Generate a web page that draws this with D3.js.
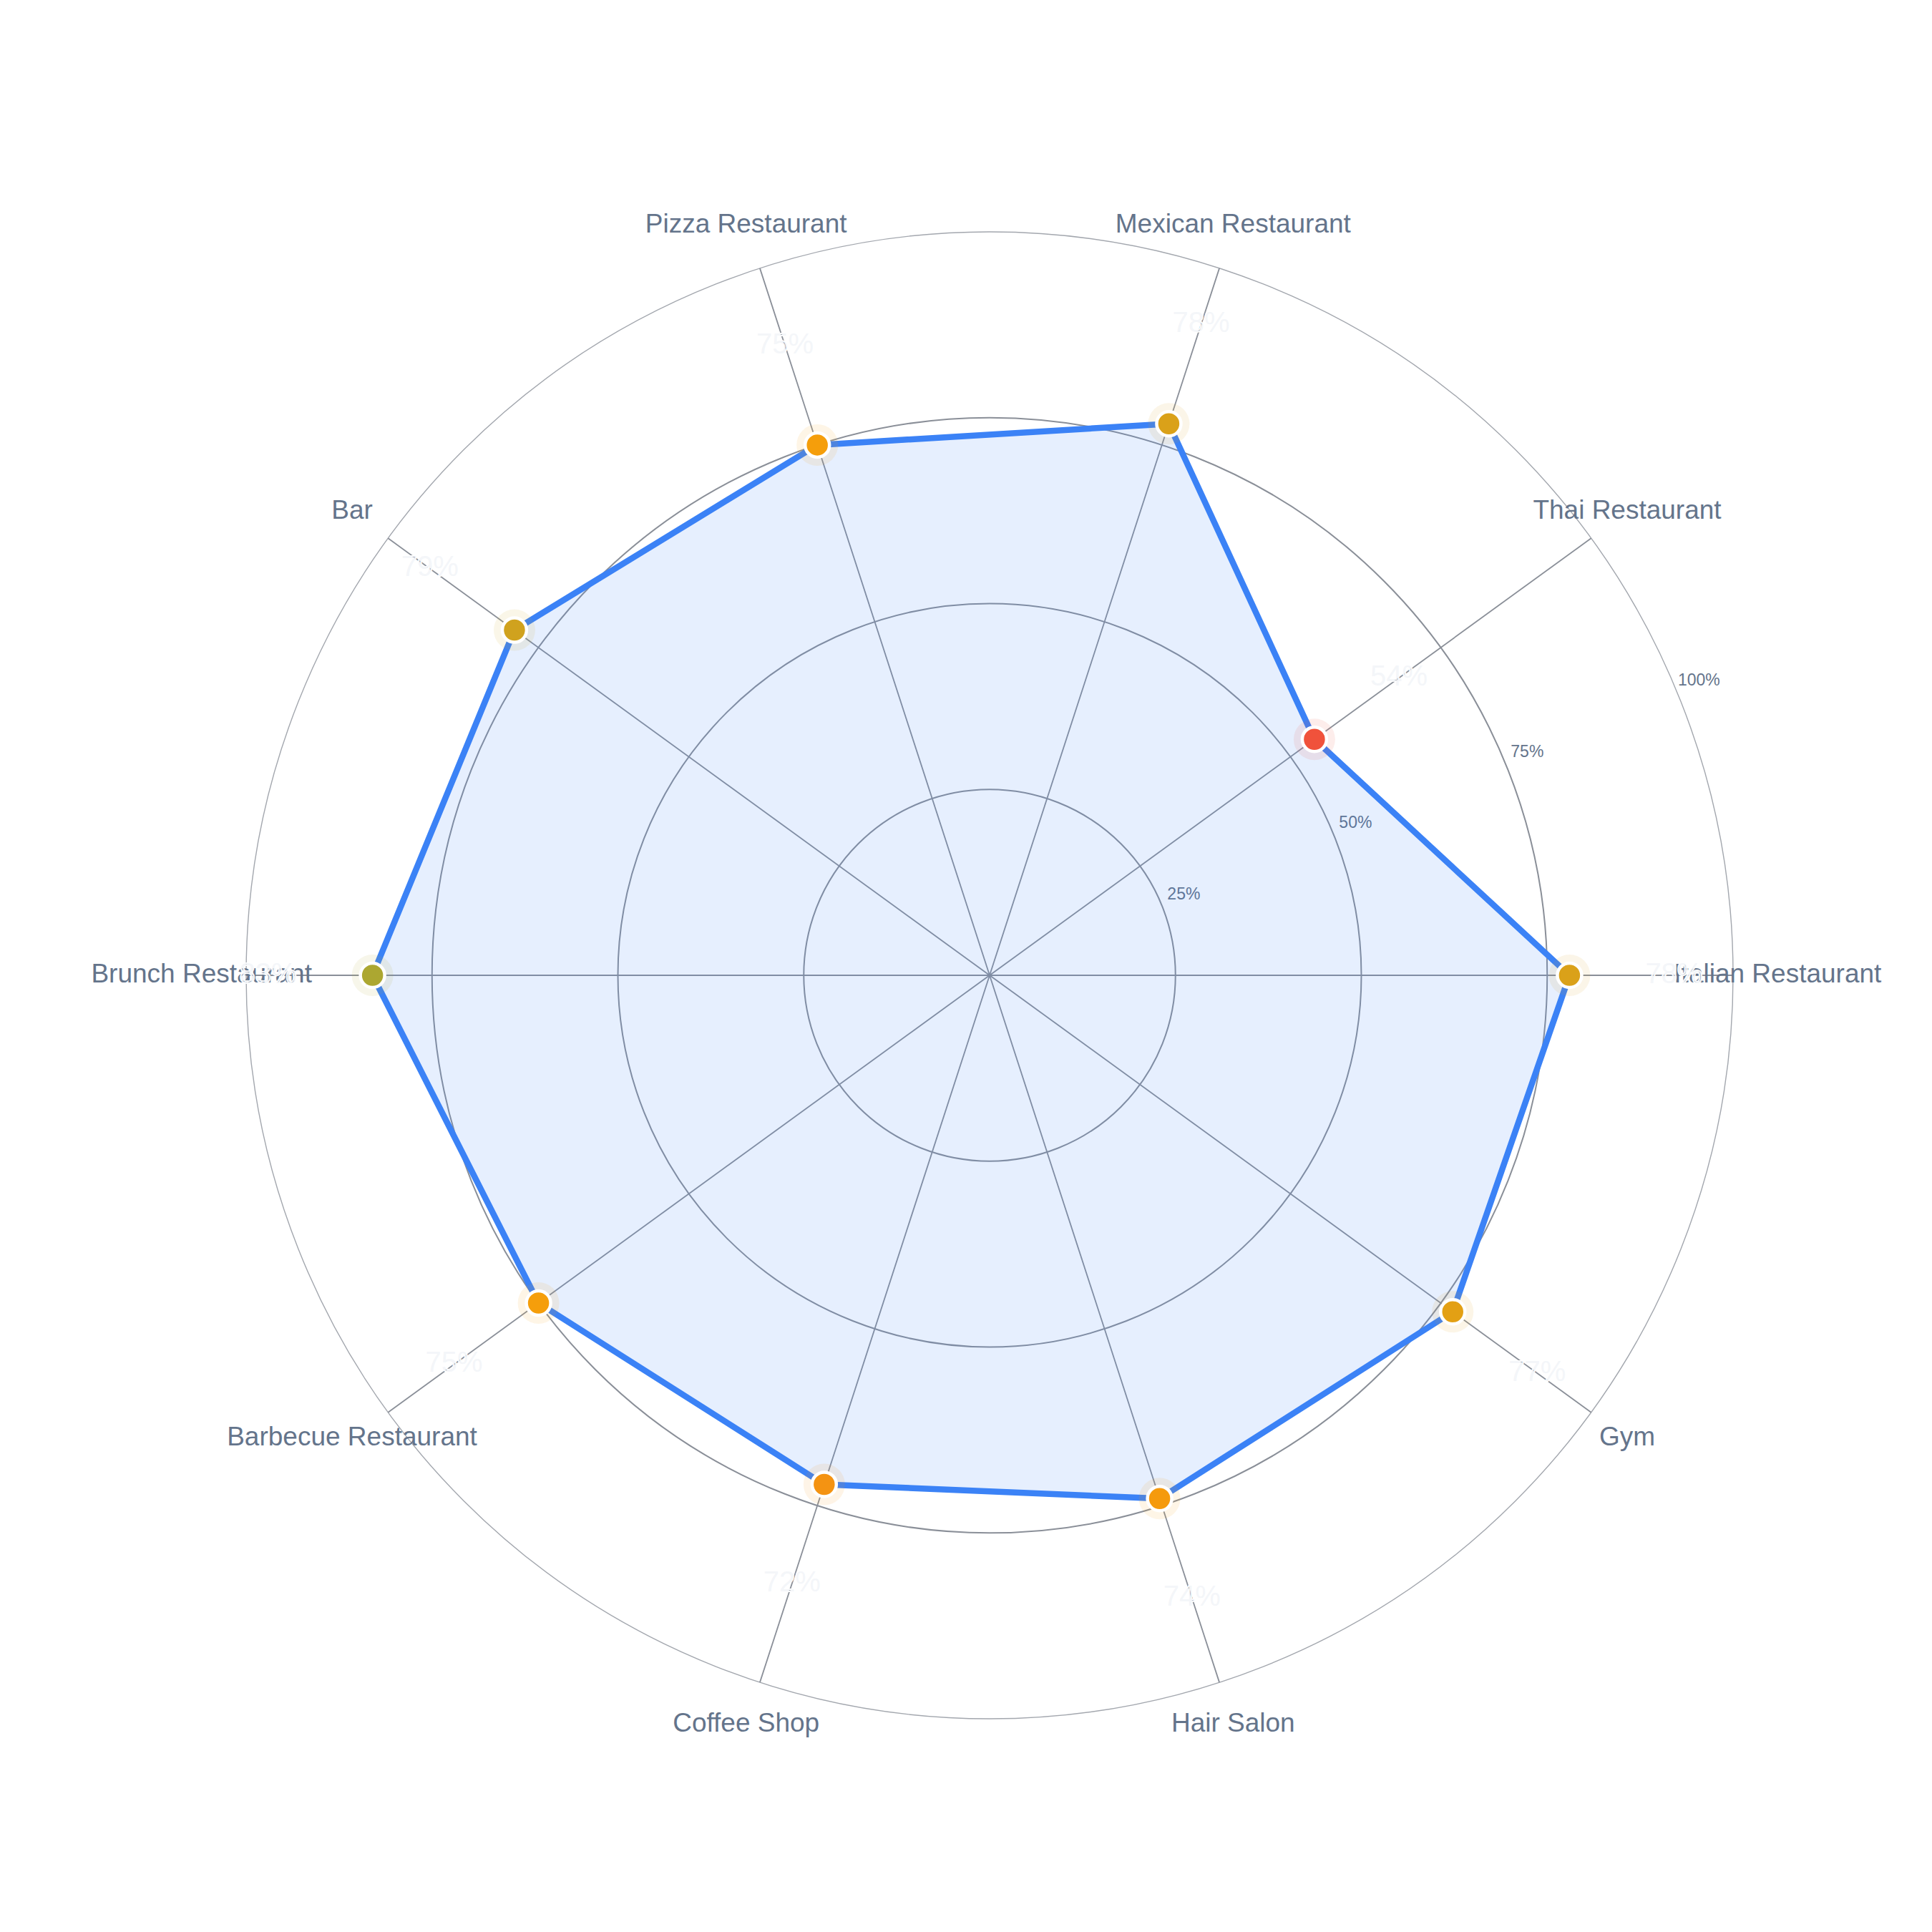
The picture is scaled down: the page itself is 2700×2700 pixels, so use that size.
<!DOCTYPE html>
<html>
<head>
<meta charset="utf-8">
<script src="https://cdn.jsdelivr.net/npm/d3@7"></script>
<style>
  html, body { margin: 0; padding: 0; background: #ffffff; }
  svg { display: block; font-family: "Helvetica Neue", Helvetica, Arial, "Liberation Sans", sans-serif; }
</style>
</head>
<body>
<svg id="chart"></svg>
<script>
const categories = ["Italian Restaurant", "Thai Restaurant", "Mexican Restaurant", "Pizza Restaurant", "Bar",
  "Brunch Restaurant", "Barbecue Restaurant", "Coffee Shop", "Hair Salon", "Gym"];
const scores = [78, 54, 78, 75, 79, 83, 75, 72, 74, 77];
const ringLevels = [25, 50, 75, 100];
const ringLabels = ["25%", "50%", "75%", "100%"];

const width = 2700, height = 2700;
const cx = 1383, cy = 1363;
const R = 1039;

const svg = d3.select("#chart")
  .attr("width", width)
  .attr("height", height);

svg.append("rect").attr("width", width).attr("height", height).attr("fill", "#ffffff");

const g = svg.append("g").attr("transform", "translate(" + cx + "," + cy + ")");

const rScale = d3.scaleLinear().domain([0, 100]).range([0, R]);
// angle in d3 radial convention (0 = 12 o'clock, clockwise); first category sits at 3 o'clock, going counter-clockwise
const aScale = d3.scaleLinear().domain([0, categories.length]).range([Math.PI / 2, Math.PI / 2 - 2 * Math.PI]);
const colorScale = d3.scaleLinear().domain([50, 75, 100]).range(["#ef4444", "#f59e0b", "#10b981"]);

const px = (a, r) => r * Math.sin(a);
const py = (a, r) => -r * Math.cos(a);

// rings
g.selectAll(".ring")
  .data(ringLevels)
  .enter().append("circle")
  .attr("class", "ring")
  .attr("r", d => rScale(d))
  .attr("fill", "none")
  .attr("stroke", d => d === 100 ? "#a3a7ae" : "#8a8f98")
  .attr("stroke-width", d => d === 100 ? 1.4 : 2);

// axes
g.selectAll(".axis")
  .data(categories)
  .enter().append("line")
  .attr("class", "axis")
  .attr("x1", 0).attr("y1", 0)
  .attr("x2", (d, i) => px(aScale(i), rScale(100)))
  .attr("y2", (d, i) => py(aScale(i), rScale(100)))
  .attr("stroke", "#8a8f98")
  .attr("stroke-width", 1.8);

// tick labels
const tickAngle = Math.PI / 2 - Math.PI / 8;
g.selectAll(".tick-label")
  .data(ringLevels)
  .enter().append("text")
  .attr("class", "tick-label")
  .attr("x", d => px(tickAngle, rScale(d) + 34))
  .attr("y", d => py(tickAngle, rScale(d) + 34))
  .attr("text-anchor", "middle")
  .attr("dominant-baseline", "middle")
  .attr("font-size", 23)
  .attr("fill", "#64748b")
  .text((d, i) => ringLabels[i]);

// area
const radarLine = d3.lineRadial()
  .angle((d, i) => aScale(i))
  .radius(d => rScale(d))
  .curve(d3.curveLinearClosed);

g.append("path")
  .datum(scores)
  .attr("d", radarLine)
  .attr("fill", "#3b82f6")
  .attr("fill-opacity", 0.13)
  .attr("stroke", "#3b82f6")
  .attr("stroke-width", 8.5)
  .attr("stroke-linejoin", "round");

// category labels
g.selectAll(".cat-label")
  .data(categories)
  .enter().append("text")
  .attr("class", "cat-label")
  .attr("x", (d, i) => px(aScale(i), rScale(100) * 1.06))
  .attr("y", (d, i) => py(aScale(i), rScale(100) * 1.06))
  .attr("text-anchor", "middle")
  .attr("dominant-baseline", "middle")
  .attr("font-size", 37)
  .attr("fill", "#64748b")
  .text(d => d);

// point halos
g.selectAll(".halo")
  .data(scores)
  .enter().append("circle")
  .attr("class", "halo")
  .attr("cx", (d, i) => px(aScale(i), rScale(d)))
  .attr("cy", (d, i) => py(aScale(i), rScale(d)))
  .attr("r", 29)
  .attr("fill", d => colorScale(d))
  .attr("fill-opacity", 0.1);

// points
g.selectAll(".dot")
  .data(scores)
  .enter().append("circle")
  .attr("class", "dot")
  .attr("cx", (d, i) => px(aScale(i), rScale(d)))
  .attr("cy", (d, i) => py(aScale(i), rScale(d)))
  .attr("r", 17)
  .attr("fill", d => colorScale(d))
  .attr("stroke", "#ffffff")
  .attr("stroke-width", 4.5);

// value labels (very faint, see-through, with thin white outline)
g.selectAll(".val-label")
  .data(scores)
  .enter().append("text")
  .attr("class", "val-label")
  .attr("x", (d, i) => px(aScale(i), rScale(d) + 146))
  .attr("y", (d, i) => py(aScale(i), rScale(d) + 146))
  .attr("text-anchor", "middle")
  .attr("dominant-baseline", "middle")
  .attr("font-size", 40)
  .attr("fill", "#e2e8f0")
  .attr("fill-opacity", 0.4)
  .attr("stroke", "#ffffff")
  .attr("stroke-width", 2)
  .attr("paint-order", "stroke")
  .text(d => d + "%");
</script>
</body>
</html>
